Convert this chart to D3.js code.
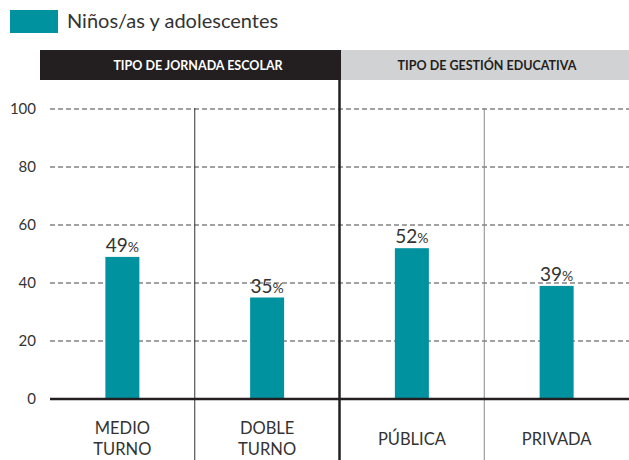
<!DOCTYPE html>
<html>
<head>
<meta charset="utf-8">
<script src="https://cdn.jsdelivr.net/npm/d3@7"></script>
<style>
  body { margin: 0; background: #fff; }
  svg { font-family: Lato, "Open Sans", sans-serif; }
</style>
</head>
<body>
<div id="canvas"></div>
<script>
// data
const categories = ["MEDIO TURNO", "DOBLE TURNO", "PÚBLICA", "PRIVADA"];
const catLines = [["MEDIO", "TURNO"], ["DOBLE", "TURNO"], ["PÚBLICA"], ["PRIVADA"]];
const values = [49, 35, 52, 39];
const yTicks = [0, 20, 40, 60, 80, 100];
const groups = ["TIPO DE JORNADA ESCOLAR", "TIPO DE GESTIÓN EDUCATIVA"];
const seriesName = "Niños/as y adolescentes";

const width = 629, height = 460;
const teal = "#00929f";
const ink = "#333";

const svg = d3.select("#canvas").append("svg")
    .attr("width", width)
    .attr("height", height);

const x = d3.scaleBand()
    .domain(categories)
    .range([50, 629])
    .padding(0);

const y = d3.scaleLinear()
    .domain([0, 100])
    .range([399, 109]);

// legend
svg.append("rect")
    .attr("x", 10).attr("y", 10)
    .attr("width", 48).attr("height", 23)
    .attr("fill", teal);
svg.append("text")
    .attr("x", 67).attr("y", 28)
    .attr("font-size", 20)
    .attr("fill", ink)
    .text(seriesName);

// group headers
const headerX = [40, 341, 629];
groups.forEach((g, i) => {
    svg.append("rect")
        .attr("x", headerX[i]).attr("y", 50)
        .attr("width", headerX[i + 1] - headerX[i]).attr("height", 30)
        .attr("fill", i === 0 ? "#231f20" : "#d1d2d4");
    svg.append("text")
        .attr("x", i === 0 ? 198 : 487).attr("y", 70)
        .attr("text-anchor", "middle")
        .attr("font-size", 12.5)
        .attr("font-weight", "bold")
        .attr("fill", i === 0 ? "#fff" : "#231f20")
        .text(g);
});

// grid lines
svg.append("g")
    .selectAll("line")
    .data(yTicks.filter(d => d > 0))
    .join("line")
    .attr("x1", 50).attr("x2", 629)
    .attr("y1", d => y(d)).attr("y2", d => y(d))
    .attr("stroke", "#444")
    .attr("stroke-width", 1)
    .attr("stroke-dasharray", "5,3");

// y tick labels
svg.append("g")
    .selectAll("text")
    .data(yTicks)
    .join("text")
    .attr("x", 36)
    .attr("y", d => y(d) + 5)
    .attr("text-anchor", "end")
    .attr("font-size", 15)
    .attr("fill", ink)
    .text(d => d);

// separators between categories
const seps = categories.slice(1).map(c => x(c));
svg.append("g")
    .selectAll("line")
    .data(seps)
    .join("line")
    .attr("x1", d => d).attr("x2", d => d)
    .attr("y1", (d, i) => i === 1 ? 80 : 108)
    .attr("y2", height)
    .attr("stroke", (d, i) => i === 1 ? "#231f20" : (i === 0 ? "#333" : "#888"))
    .attr("stroke-width", (d, i) => i === 1 ? 2.5 : 1);

// bars
const barW = 34;
svg.append("g")
    .selectAll("rect")
    .data(values)
    .join("rect")
    .attr("x", (d, i) => x(categories[i]) + x.bandwidth() / 2 - barW / 2)
    .attr("y", d => y(d))
    .attr("width", barW)
    .attr("height", d => y(0) - y(d))
    .attr("fill", teal);

// value labels
const lab = svg.append("g")
    .selectAll("text")
    .data(values)
    .join("text")
    .attr("x", (d, i) => x(categories[i]) + x.bandwidth() / 2)
    .attr("y", d => y(d) - 5)
    .attr("text-anchor", "middle")
    .attr("fill", ink);
lab.append("tspan").attr("font-size", 19).text(d => d);
lab.append("tspan").attr("font-size", 14).text("%");

// zero line
svg.append("line")
    .attr("x1", 50).attr("x2", 629)
    .attr("y1", y(0)).attr("y2", y(0))
    .attr("stroke", "#231f20")
    .attr("stroke-width", 2.5);

// category labels
svg.append("g")
    .selectAll("text")
    .data(catLines)
    .join("text")
    .attr("text-anchor", "middle")
    .attr("font-size", 16.5)
    .attr("fill", ink)
    .each(function(lines, i) {
        const cx = x(categories[i]) + x.bandwidth() / 2;
        const y0 = lines.length === 1 ? 445 : 434;
        d3.select(this).selectAll("tspan")
            .data(lines)
            .join("tspan")
            .attr("x", cx)
            .attr("y", (l, j) => y0 + j * 21)
            .text(l => l);
    });
</script>
</body>
</html>
